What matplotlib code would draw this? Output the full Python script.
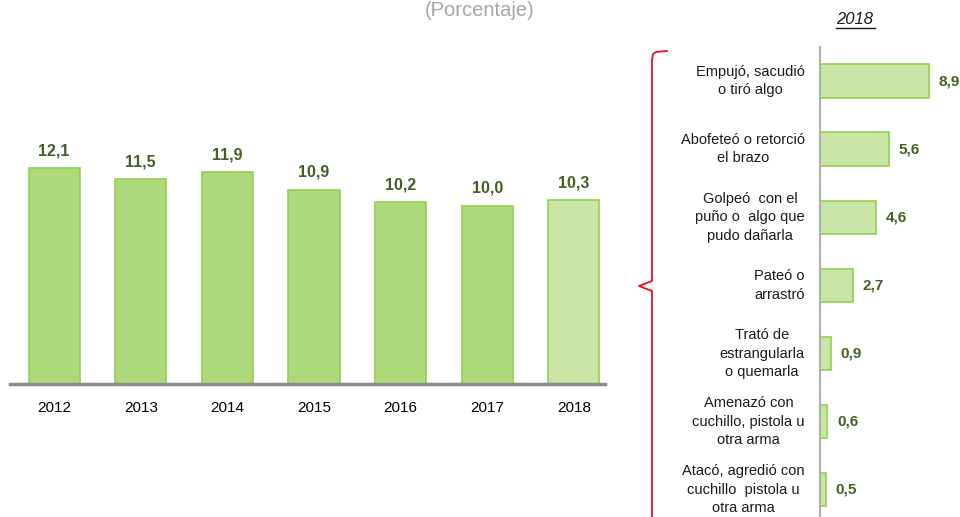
import matplotlib
matplotlib.use("Agg")
import matplotlib.pyplot as plt
from matplotlib.lines import Line2D

plt.rcParams['font.family'] = ['Liberation Sans', 'DejaVu Sans']

years = ['2012', '2013', '2014', '2015', '2016', '2017', '2018']
values = [12.1, 11.5, 11.9, 10.9, 10.2, 10.0, 10.3]

categories = [
    'Empujó, sacudió\no tiró algo',
    'Abofeteó o retorció\nel brazo',
    'Golpeó  con el\npuño o  algo que\npudo dañarla',
    'Pateó o\narrastró',
    'Trató de\nestrangularla\no quemarla',
    'Amenazó con\ncuchillo, pistola u\notra arma',
    'Atacó, agredió con\ncuchillo  pistola u\notra arma',
]
cat_values = [8.9, 5.6, 4.6, 2.7, 0.9, 0.6, 0.5]

W, H = 960, 517
fig = plt.figure(figsize=(W / 100, H / 100), dpi=100)

fmt = lambda v: f"{v:.1f}".replace('.', ',')
label_green = '#435f24'

# Left chart
ax = fig.add_axes([10 / W, 1 - 384 / H, 595 / W, 250 / H])
colors = ['#aed97a'] * (len(years) - 1) + ['#c9e6a6']
xs = list(range(len(years)))
ax.bar(xs, values, width=0.59, color=colors, edgecolor='#8fd150', linewidth=1.2)
ax.set_xlim(-0.51, 6.36)
ax.set_ylim(0, 250 / 17.83)
for x, v in zip(xs, values):
    ax.annotate(fmt(v), (x, v), xytext=(0, 7), textcoords='offset points',
                ha='center', va='bottom', fontsize=11.5, fontweight='bold', color=label_green)
ax.set_xticks(xs)
ax.set_xticklabels(years, fontsize=11)
ax.tick_params(axis='x', length=0, pad=12)
ax.set_yticks([])
for s in ['top', 'right', 'left']:
    ax.spines[s].set_visible(False)
ax.spines['bottom'].set_color('#8c8c8c')
ax.spines['bottom'].set_linewidth(2.5)

fig.text(480 / W, 1 - 11 / H, '(Porcentaje)', ha='center', va='center',
         fontsize=14.5, color='#a6a6a6')

# Right chart
ax2 = fig.add_axes([820 / W, 0, 135 / W, 470 / H])
ys = list(range(len(categories)))
ax2.barh(ys, cat_values, height=0.49, color='#c9e6a6', edgecolor='#8fd150', linewidth=1.2)
ax2.set_ylim(6.4, -0.5)
ax2.set_xlim(0, 11)
for y, v, c in zip(ys, cat_values, categories):
    ax2.annotate(fmt(v), (v, y), xytext=(7, 0), textcoords='offset points',
                 ha='left', va='center', fontsize=11, fontweight='bold', color=label_green)
    ax2.annotate(c, (0, y), xytext=(-11, 0), textcoords='offset points',
                 ha='right', va='center', multialignment='center', fontsize=10.5,
                 color='#1a1a1a', linespacing=1.4, annotation_clip=False)
ax2.set_xticks([])
ax2.set_yticks([])
for s in ['top', 'right', 'bottom']:
    ax2.spines[s].set_visible(False)
ax2.spines['left'].set_color('#b0b0b0')
ax2.spines['left'].set_linewidth(1.5)

fig.text(855 / W, 1 - 19 / H, '2018', ha='center', va='center', fontsize=12,
         style='italic', color='#1a1a1a')
fig.add_artist(Line2D([836 / W, 875 / W], [1 - 28 / H, 1 - 28 / H], color='#1a1a1a', lw=1))

# Red bracket
bx = [667, 656, 653, 652, 652, 639, 652, 652]
by = [51, 52, 54, 60, 281, 286, 291, 517]
fig.add_artist(Line2D([x / W for x in bx], [1 - y / H for y in by], color='#e8101a', lw=1.3))

fig.savefig('out.png', dpi=100)
